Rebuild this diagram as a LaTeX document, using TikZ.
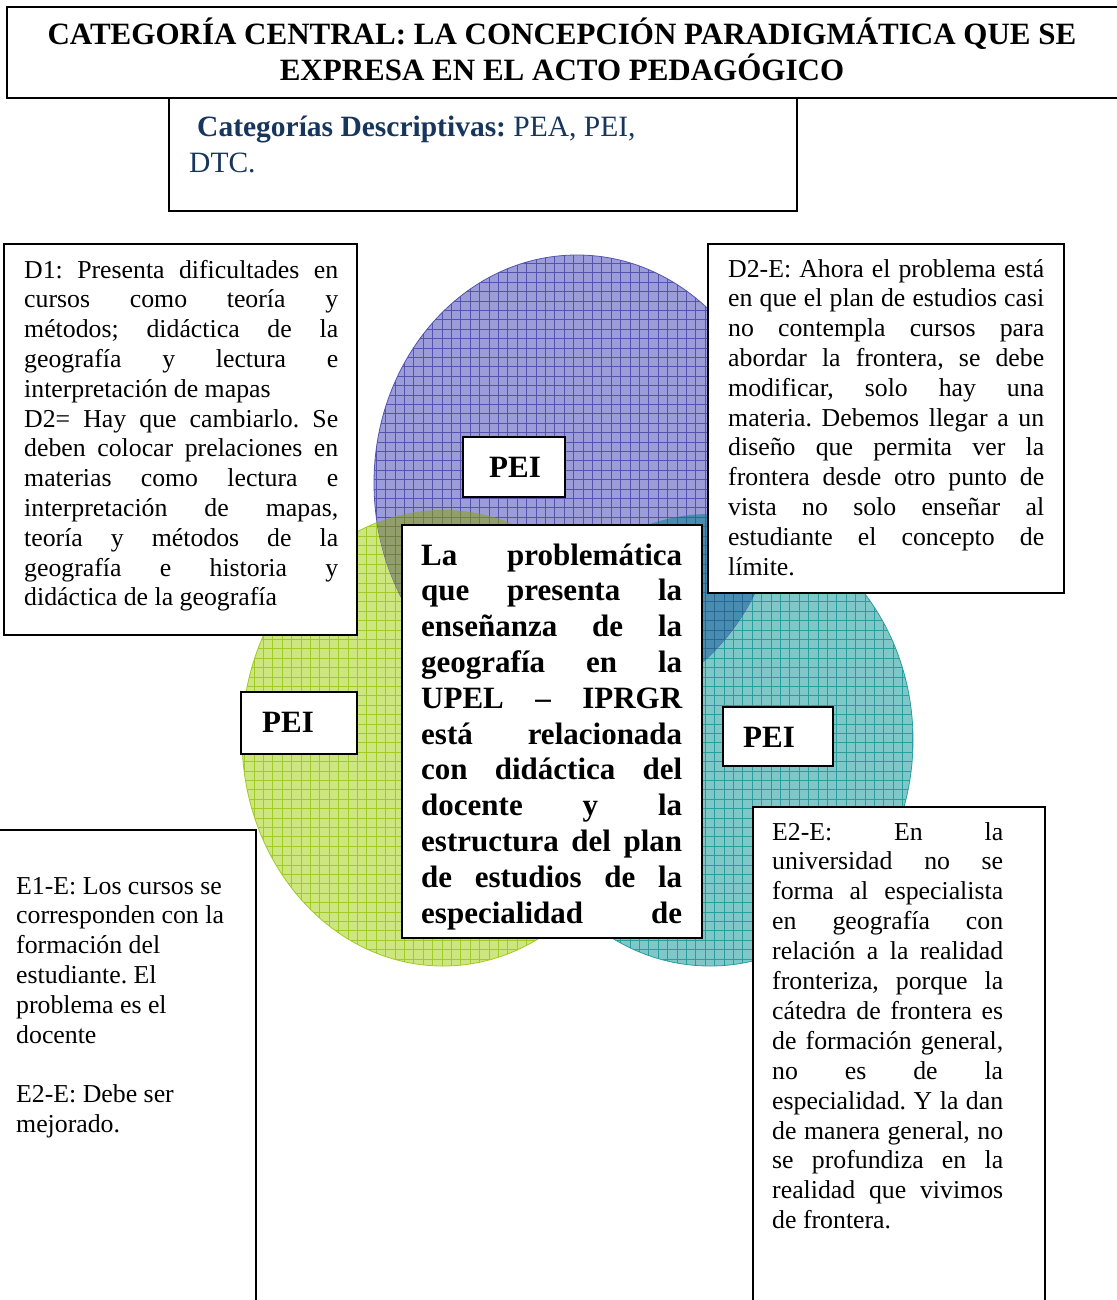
\documentclass[tikz,border=0pt]{standalone}
\usepackage{fontspec}
\setmainfont{Liberation Serif}
\frenchspacing
\definecolor{bfill}{RGB}{156,156,216}
\definecolor{bgrid}{RGB}{84,84,176}
\definecolor{gfill}{RGB}{206,230,128}
\definecolor{ggrid}{RGB}{160,202,36}
\definecolor{tfill}{RGB}{128,200,200}
\definecolor{tgrid}{RGB}{40,158,158}
\definecolor{bgfill}{RGB}{146,158,108}
\definecolor{bggrid}{RGB}{110,128,70}
\definecolor{btfill}{RGB}{72,140,176}
\definecolor{btgrid}{RGB}{42,102,150}
\definecolor{navy}{RGB}{23,54,93}
\tikzset{
  bodytxt/.style={font=\fontsize{25.8pt}{30pt}\selectfont, inner sep=0pt, anchor=base west},
  boldtxt/.style={font=\fontsize{31pt}{36pt}\selectfont\bfseries, inner sep=0pt, anchor=base west},
  titletxt/.style={font=\fontsize{31pt}{36pt}\selectfont\bfseries, inner sep=0pt, anchor=base},
  cattxt/.style={inner sep=0pt, anchor=base west, text=navy, font=\fontsize{29.5pt}{34pt}\selectfont},
  boxst/.style={draw=black, line width=1.6pt, fill=white},
  gridst/.style={line width=0.6pt, step=9.4pt},
}
\begin{document}
\begin{tikzpicture}[x=1pt,y=-1pt]
\useasboundingbox (0,0) rectangle (1116,1300);
\fill[white] (0,0) rectangle (1116,1300);

% green ellipse
\begin{scope}
  \clip (443,738) ellipse [x radius=201pt, y radius=228pt];
  \fill[gfill] (230,500) rectangle (660,980);
  \draw[ggrid, gridst] (230,500) grid (660,980);
\end{scope}
\draw[ggrid, line width=0.8pt] (443,738) ellipse [x radius=201pt, y radius=228pt];

% teal ellipse
\begin{scope}
  \clip (710,740) ellipse [x radius=203pt, y radius=226pt];
  \fill[tfill] (500,500) rectangle (920,980);
  \draw[tgrid, gridst] (500,500) grid (920,980);
\end{scope}
\draw[tgrid, line width=0.8pt] (710,740) ellipse [x radius=203pt, y radius=226pt];

% blue ellipse
\begin{scope}
  \clip (577,483) ellipse [x radius=203pt, y radius=228pt];
  \fill[bfill] (360,240) rectangle (790,720);
  \draw[bgrid, gridst] (360,240) grid (790,720);
\end{scope}
\draw[bgrid, line width=0.8pt] (577,483) ellipse [x radius=203pt, y radius=228pt];

% blue-green overlap
\begin{scope}
  \clip (577,483) ellipse [x radius=203pt, y radius=228pt];
  \clip (443,738) ellipse [x radius=201pt, y radius=228pt];
  \fill[bgfill] (230,480) rectangle (790,980);
  \draw[bggrid, gridst] (230,480) grid (790,980);
\end{scope}
% blue-teal overlap
\begin{scope}
  \clip (577,483) ellipse [x radius=203pt, y radius=228pt];
  \clip (710,740) ellipse [x radius=203pt, y radius=226pt];
  \fill[btfill] (360,480) rectangle (920,980);
  \draw[btgrid, gridst] (360,480) grid (920,980);
\end{scope}

% boxes
\draw[boxst] (7,7) rectangle (1121,98);
\draw[boxst] (169,98) rectangle (797,211);
\draw[boxst] (4,244) rectangle (357,635);
\draw[boxst] (708,244) rectangle (1064,593);
\draw[boxst] (402,525) rectangle (702,938);
\draw[boxst] (463,437) rectangle (565,497);
\draw[boxst] (241,692) rectangle (357,754);
\draw[boxst] (723,707) rectangle (833,766);
\draw[boxst] (-5,830) rectangle (256,1310);
\draw[boxst] (753,807) rectangle (1045,1310);

% title
\node[titletxt] (t1) at (562,45) {CATEGORÍA CENTRAL: LA CONCEPCIÓN PARADIGMÁTICA QUE SE};
\node[titletxt] (t2) at (562,81) {EXPRESA EN EL ACTO PEDAGÓGICO};

% categorias
\node[cattxt] (c1) at (197,137) {\textbf{Categorías Descriptivas:} PEA, PEI,};
\node[cattxt] (c2) at (189,173) {DTC.};

% PEI labels
\node[boldtxt] (p1) at (489,477) {PEI};
\node[boldtxt] (p2) at (262,732) {PEI};
\node[boldtxt] (p3) at (743,747) {PEI};

% D1 box
\foreach \t/\m [count=\i] in {
  {D1: Presenta dificultades en}/s,
  {cursos como teoría y}/s,
  {métodos; didáctica de la}/s,
  {geografía y lectura e}/s,
  {interpretación de mapas}/l,
  {D2= Hay que cambiarlo. Se}/s,
  {deben colocar prelaciones en}/s,
  {materias como lectura e}/s,
  {interpretación de mapas,}/s,
  {teoría y métodos de la}/s,
  {geografía e historia y}/s,
  {didáctica de la geografía}/l}
  \node[bodytxt] (dl\i) at (24,{278+29.8*(\i-1)}) {\makebox[314pt][\m]{\t}};

% D2-E box
\foreach \t/\m [count=\i] in {
  {D2-E: Ahora el problema está}/s,
  {en que el plan de estudios casi}/s,
  {no contempla cursos para}/s,
  {abordar la frontera, se debe}/s,
  {modificar, solo hay una}/s,
  {materia. Debemos llegar a un}/s,
  {diseño que permita ver la}/s,
  {frontera desde otro punto de}/s,
  {vista no solo enseñar al}/s,
  {estudiante el concepto de}/s,
  {límite.}/l}
  \node[bodytxt] (dr\i) at (728,{277+29.8*(\i-1)}) {\makebox[316pt][\m]{\t}};

% central box
\foreach \t [count=\i] in {
  {La problemática},
  {que presenta la},
  {enseñanza de la},
  {geografía en la},
  {UPEL – IPRGR},
  {está relacionada},
  {con didáctica del},
  {docente y la},
  {estructura del plan},
  {de estudios de la},
  {especialidad de}}
  \node[boldtxt] (cl\i) at (421,{565+35.8*(\i-1)}) {\makebox[261pt][s]{\t}};

% E1-E box
\foreach \t/\k [count=\i] in {
  {E1-E: Los cursos se}/0,
  {corresponden con la}/1,
  {formación del}/2,
  {estudiante. El}/3,
  {problema es el}/4,
  {docente}/5,
  {E2-E: Debe ser}/7,
  {mejorado.}/8}
  \node[bodytxt] (el\i) at (16,{894+29.8*\k}) {\t};

% E2-E box
\foreach \t/\m [count=\i] in {
  {E2-E: En la}/s,
  {universidad no se}/s,
  {forma al especialista}/s,
  {en geografía con}/s,
  {relación a la realidad}/s,
  {fronteriza, porque la}/s,
  {cátedra de frontera es}/s,
  {de formación general,}/s,
  {no es de la}/s,
  {especialidad. Y la dan}/s,
  {de manera general, no}/s,
  {se profundiza en la}/s,
  {realidad que vivimos}/s,
  {de frontera.}/l}
  \node[bodytxt] (er\i) at (772,{840+29.9*(\i-1)}) {\makebox[231pt][\m]{\t}};
\end{tikzpicture}
\end{document}
